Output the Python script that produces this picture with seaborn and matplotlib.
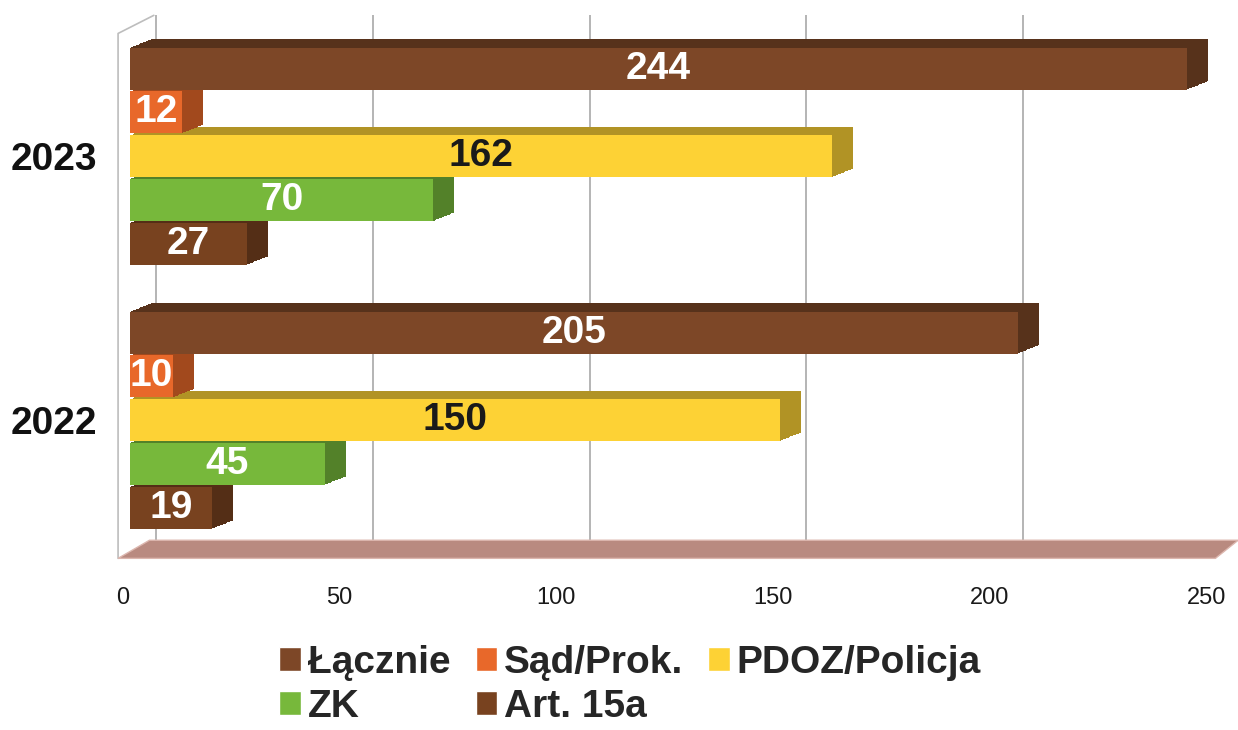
import numpy as np
import pandas as pd
import matplotlib
matplotlib.use("Agg")
import matplotlib.pyplot as plt
import matplotlib.patheffects as pe
import matplotlib.transforms as mtransforms
import matplotlib.colors as mcolors
from matplotlib.patches import Polygon
from matplotlib.lines import Line2D
import seaborn as sns

# ---- data ----
years = ["2023", "2022"]
series = ["Łącznie", "Sąd/Prok.", "PDOZ/Policja", "ZK", "Art. 15a"]
values_2023 = [244, 12, 162, 70, 27]
values_2022 = [205, 10, 150, 45, 19]
x_ticks = [0, 50, 100, 150, 200, 250]

colors = ["#7d4727", "#e8682a", "#fdd235", "#77b83b", "#78421f"]
label_colors = ["white", "white", "#1a1a1a", "white", "white"]

df = pd.DataFrame({
    "year": np.repeat(years, len(series)),
    "series": series * len(years),
    "value": values_2023 + values_2022,
})

sns.set_theme(style="white")
plt.rcParams["font.family"] = ["Liberation Sans", "DejaVu Sans"]

fig = plt.figure(figsize=(12.38, 7.30), dpi=100)
ax = fig.add_axes([0.105, 0.249, 0.875, 0.730])

palette = dict(zip(series, colors))
sns.barplot(data=df, y="year", x="value", hue="series", order=years,
            hue_order=series, palette=palette, orient="h", width=0.83,
            gap=0.04, saturation=1, errorbar=None, ax=ax)

ax.set_xlim(x_ticks[0], x_ticks[-1])
ax.set_ylim(1.485, -0.534)


def darken(c, f):
    r, g, b = mcolors.to_rgb(c)
    return (r * f, g * f, b * f)


dx, dy, n = 15, 6, 14
for i, cont in enumerate(ax.containers):
    col = colors[i]
    dark = darken(col, 0.7)
    effs = [pe.SimplePatchShadow(offset=(dx * k / n, dy * k / n),
                                 shadow_rgbFace=dark, alpha=1)
            for k in range(n, 0, -1)] + [pe.Normal()]
    for p in cont.patches:
        p.set_linewidth(0)
        p.set_zorder(10 - i)
        p.set_path_effects(effs)
    ax.bar_label(cont, label_type="center", color=label_colors[i],
                 fontsize=28, fontweight="bold", zorder=20)

# back-wall gridlines (offset for depth)
shift = mtransforms.ScaledTranslation(19 / 72, 0, fig.dpi_scale_trans)
ax.vlines(x_ticks[:-1], 0.015, 1.0, transform=ax.get_xaxis_transform() + shift,
          colors="#a8a8a8", lw=1.2, zorder=0.5, clip_on=False)

# floor
floor = Polygon([(-0.011, -0.019), (0.018, 0.015), (1.023, 0.015), (1.002, -0.019)],
                closed=True, transform=ax.transAxes, facecolor="#b98a80",
                edgecolor="#dcb6ae", lw=1, clip_on=False, zorder=0.6)
ax.add_patch(floor)
# left wall edge
ax.add_line(Line2D([-0.011, -0.011, 0.022], [-0.019, 0.966, 1.0],
                   transform=ax.transAxes, color="#bdbdbd", lw=1.2,
                   clip_on=False, zorder=0.5))

for s in ax.spines.values():
    s.set_visible(False)

ax.set_xticks(x_ticks)
ax.set_xticklabels([str(t) for t in x_ticks])
ax.tick_params(axis="x", labelsize=17, length=0, pad=28, colors="#1a1a1a")
ax.tick_params(axis="y", labelsize=28, length=0, pad=24, colors="#111111")
for lbl in ax.get_yticklabels():
    lbl.set_fontweight("bold")
lshift = mtransforms.ScaledTranslation(-5 / 72, 0, fig.dpi_scale_trans)
for lbl in ax.get_xticklabels():
    lbl.set_transform(lbl.get_transform() + lshift)
ax.set_xlabel("")
ax.set_ylabel("")

handles, labels = ax.get_legend_handles_labels()
ax.get_legend().remove()
order = [0, 3, 1, 4, 2]
fig.legend([handles[k] for k in order], [labels[k] for k in order],
           ncol=3, loc="center", bbox_to_anchor=(0.509, 0.062), frameon=False,
           prop=dict(weight="bold", size=28), handlelength=0.55,
           handleheight=0.55, handletextpad=0.18, columnspacing=0.65,
           labelspacing=0.2, borderpad=0, borderaxespad=0)

fig.savefig("out.png", dpi=100, facecolor="white")
